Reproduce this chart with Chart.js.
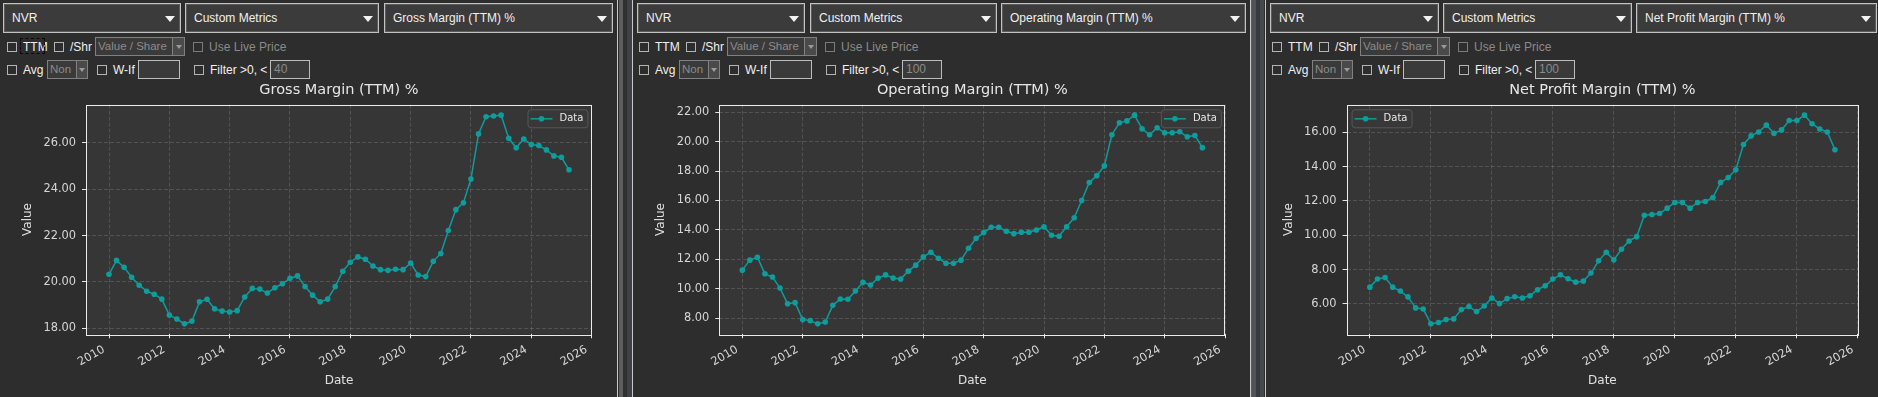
<!DOCTYPE html>
<html>
<head>
<meta charset="utf-8">
<script src="https://cdn.jsdelivr.net/npm/chart.js@4.4.1/dist/chart.umd.min.js"></script>
<style>
html,body{margin:0;padding:0;background:#2d2d2d;width:1878px;height:397px;overflow:hidden;font-family:"Liberation Sans",Arial,sans-serif;}
.panel{position:absolute;top:0;height:397px;}
.a{position:absolute;box-sizing:border-box;white-space:nowrap;}
.combo{border:1px solid #c2c2c2;box-shadow:inset 0 0 0 1px #5c5c5c;background:#3b3b3b;color:#f0f0f0;font-size:12px;line-height:28px;padding-left:8px;overflow:hidden;}
.arrow{position:absolute;width:0;height:0;border-left:5px solid transparent;border-right:5px solid transparent;border-top:6px solid #f2f2f2;}
.dcombo{border:1px solid #808080;background:#3a3a3a;color:#8c8c8c;font-size:11.5px;line-height:17px;padding-left:2px;overflow:hidden;}
.dbtn{border:1px solid #808080;background:#4a4a4a;}
.darrow{position:absolute;width:0;height:0;border-left:3px solid transparent;border-right:3px solid transparent;border-top:4px solid #9a9a9a;}
.cb{width:10px;height:10px;border:1px solid #b4b4b4;background:#2d2d2d;}
.cb.dis{border-color:#7a7a7a;}
.lbl{font-size:12px;color:#f0f0f0;line-height:16px;}
.lbl.dis{color:#8a8a8a;}
.inp{border:1px solid #bcbcbc;background:#3a3a3a;color:#8a8a8a;font-size:12px;line-height:17px;padding-left:3px;}
.focus{border:1px dashed #0a0a0a;}
.strip{position:absolute;top:0;height:397px;width:1px;}
canvas{position:absolute;left:0;top:0;}
</style>
</head>
<body>
<script>
// ---------------- data ----------------
const dates = [
 '2010-01','2010-04','2010-07','2010-10','2011-01','2011-04','2011-07','2011-10',
 '2012-01','2012-04','2012-07','2012-10','2013-01','2013-04','2013-07','2013-10',
 '2014-01','2014-04','2014-07','2014-10','2015-01','2015-04','2015-07','2015-10',
 '2016-01','2016-04','2016-07','2016-10','2017-01','2017-04','2017-07','2017-10',
 '2018-01','2018-04','2018-07','2018-10','2019-01','2019-04','2019-07','2019-10',
 '2020-01','2020-04','2020-07','2020-10','2021-01','2021-04','2021-07','2021-10',
 '2022-01','2022-04','2022-07','2022-10','2023-01','2023-04','2023-07','2023-10',
 '2024-01','2024-04','2024-07','2024-10','2025-01','2025-04'
];
const grossMargin = [20.33,20.93,20.63,20.20,19.86,19.60,19.47,19.26,18.57,18.40,
 18.19,18.31,19.14,19.25,18.84,18.74,18.70,18.76,19.35,19.72,
 19.69,19.52,19.75,19.92,20.16,20.26,19.80,19.43,19.14,19.26,
 19.80,20.46,20.85,21.08,20.98,20.69,20.53,20.50,20.55,20.53,
 20.81,20.30,20.23,20.89,21.23,22.22,23.12,23.42,24.44,26.39,
 27.13,27.16,27.20,26.20,25.79,26.17,25.93,25.89,25.70,25.44,
 25.38,24.84];
const operatingMargin = [11.27,11.95,12.15,11.02,10.80,10.05,8.99,9.06,7.91,7.84,
 7.62,7.75,8.88,9.31,9.29,9.85,10.44,10.26,10.73,10.95,
 10.73,10.66,11.20,11.61,12.17,12.49,12.08,11.74,11.74,11.95,
 12.76,13.43,13.82,14.18,14.18,13.91,13.75,13.84,13.84,14.00,
 14.22,13.64,13.57,14.22,14.83,16.00,17.22,17.69,18.35,20.47,
 21.28,21.41,21.80,20.87,20.47,20.94,20.60,20.60,20.67,20.33,
 20.42,19.59];
const netProfitMargin = [6.98,7.45,7.54,6.98,6.75,6.41,5.77,5.71,4.84,4.92,
 5.09,5.13,5.67,5.85,5.56,5.88,6.35,6.02,6.31,6.42,
 6.35,6.48,6.83,7.06,7.45,7.70,7.47,7.27,7.33,7.80,
 8.51,9.01,8.57,9.19,9.67,9.92,11.17,11.21,11.27,11.58,
 11.91,11.91,11.58,11.91,11.97,12.20,13.08,13.36,13.82,15.29,
 15.79,16.02,16.42,15.94,16.14,16.69,16.69,17.00,16.50,16.19,
 16.02,14.98];
const xTickValues = [2010,2012,2014,2016,2018,2020,2022,2024,2026];
const xTickLabels = ['2010','2012','2014','2016','2018','2020','2022','2024','2026'];
const grossTicks = [18,20,22,24,26];
const operatingTicks = [8,10,12,14,16,18,20,22];
const netTicks = [6,8,10,12,14,16];
const titles = ['Gross Margin (TTM) %','Operating Margin (TTM) %','Net Profit Margin (TTM) %'];
const seriesLabel = 'Data';
const xAxisLabel = 'Date';
const yAxisLabel = 'Value';

// ---------------- helpers ----------------
const TEAL = '#0e9c9c';
const FONT = 'DejaVu Sans';
function toYear(s){ const [y,m] = s.split('-').map(Number); return y + (m-1)/12; }

function add(parent, cls, css, text){
  const d = document.createElement('div');
  d.className = 'a ' + cls;
  Object.assign(d.style, css);
  if (text !== undefined) d.textContent = text;
  parent.appendChild(d);
  return d;
}
function combo(p, x, w, text){
  const c = add(p, 'combo', {left:x+'px', top:'3px', width:w+'px', height:'30px'}, text);
  add(c, 'arrow', {left:(w-17)+'px', top:'12px'});
}
function dcombo(p, x, y, w, bw, text){
  add(p, 'dcombo', {left:x+'px', top:y+'px', width:w+'px', height:'19px'}, text);
  const b = add(p, 'dbtn', {left:(x+w-1)+'px', top:y+'px', width:bw+'px', height:'19px'});
  add(b, 'darrow', {left:((bw-2)/2-3)+'px', top:'7px'});
}
function check(p, x, y, text, dis){
  add(p, 'cb' + (dis ? ' dis' : ''), {left:x+'px', top:y+'px'});
  add(p, 'lbl' + (dis ? ' dis' : ''), {left:(x+16)+'px', top:(y-3)+'px'}, text);
}
function input(p, x, y, w, text){
  add(p, 'inp', {left:x+'px', top:y+'px', width:w+'px', height:'19px'}, text);
}

const bgPlugin = {
  id:'plotBg',
  beforeDraw(chart){
    const {ctx, chartArea:a} = chart;
    ctx.save(); ctx.fillStyle = '#363636';
    ctx.fillRect(a.left, a.top, a.right-a.left, a.bottom-a.top);
    ctx.restore();
  }
};
const framePlugin = {
  id:'frame',
  afterDraw(chart, args, opts){
    const {ctx, chartArea:a} = chart;
    // legend inside plot
    const ds = chart.data.datasets[0];
    const w = 60, h = 18;
    const bx = opts.side === 'left' ? a.left + 5 : a.right - 4.5 - w;
    const by = a.top + 4.6;
    ctx.save();
    ctx.beginPath();
    if (ctx.roundRect) ctx.roundRect(bx+0.5, by+0.5, w, h, 3); else ctx.rect(bx+0.5, by+0.5, w, h);
    ctx.fillStyle = 'rgba(56,56,56,0.85)'; ctx.fill();
    ctx.strokeStyle = '#575757'; ctx.lineWidth = 1; ctx.stroke();
    const my = by + h/2 + 0.5;
    ctx.strokeStyle = ds.borderColor; ctx.lineWidth = 1.5;
    ctx.beginPath(); ctx.moveTo(bx+3, my); ctx.lineTo(bx+25, my); ctx.stroke();
    ctx.fillStyle = ds.borderColor;
    ctx.beginPath(); ctx.arc(bx+14, my, 2.8, 0, Math.PI*2); ctx.fill();
    ctx.fillStyle = '#e8e8e8'; ctx.font = '10px "' + FONT + '"';
    ctx.textBaseline = 'middle'; ctx.textAlign = 'left';
    ctx.fillText(ds.label, bx+32, my);
    // spines
    ctx.strokeStyle = '#ececec'; ctx.lineWidth = 1;
    ctx.strokeRect(Math.round(a.left)+0.5, Math.round(a.top)+0.5, Math.round(a.right-a.left)-1, Math.round(a.bottom-a.top));
    ctx.restore();
  }
};

function makeChart(panel, cfg){
  const cv = document.createElement('canvas');
  cv.width = cfg.width; cv.height = 317;
  const holder = add(panel, '', {left:'0px', top:'80px', width:cfg.width+'px', height:'317px'});
  holder.appendChild(cv);
  const xs = dates.map(toYear);
  const vals = cfg.values;
  const lo = Math.min(...vals), hi = Math.max(...vals), m = (hi-lo)*0.05;
  const x0 = Math.min(...xs), x1 = Math.max(...xs), mx = (x1-x0)*0.05;
  const tickFont = {family:FONT, size:11.4};
  const gridCol = 'rgba(255,255,255,0.14)';
  new Chart(cv, {
    type:'line',
    data:{datasets:[{
      label:seriesLabel,
      data:xs.map((x,i)=>({x:x, y:vals[i]})),
      borderColor:TEAL, backgroundColor:TEAL,
      pointBackgroundColor:TEAL, pointBorderColor:TEAL,
      pointRadius:2.8, pointBorderWidth:0, pointHoverRadius:2.8,
      borderWidth:1.5, tension:0, fill:false
    }]},
    options:{
      responsive:false, animation:false, events:[],
      layout:{padding:{left:0, right:cfg.width-cfg.plotRight, top:0, bottom:0}},
      plugins:{
        legend:{display:false}, tooltip:{enabled:false},
        title:{display:true, text:cfg.title, fullSize:false, color:'#e6e6e6',
          font:{family:FONT, size:14.5, weight:'normal'}, padding:{top:2, bottom:5.3}},
        frame:{side:cfg.legendSide}
      },
      scales:{
        x:{
          type:'linear', min:x0-mx, max:x1+mx,
          afterBuildTicks:s=>{ s.ticks = xTickValues.map(v=>({value:v})); },
          afterFit:s=>{ s.height = 62.7; },
          ticks:{color:'#d6d6d6', font:tickFont, minRotation:30, maxRotation:30, autoSkip:false, padding:4.5,
                 labelOffset:-5, callback:(v,i)=>xTickLabels[i]},
          grid:{color:gridCol, lineWidth:1, tickColor:'#e6e6e6', tickLength:4, tickWidth:1},
          border:{display:false, dash:[4,2]},
          title:{display:true, text:xAxisLabel, color:'#e0e0e0', font:{family:FONT, size:12}, padding:{top:0, bottom:9.1}}
        },
        y:{
          type:'linear', min:lo-m, max:hi+m,
          afterBuildTicks:s=>{ s.ticks = cfg.yTicks.map(v=>({value:v})); },
          afterFit:s=>{ s.width = cfg.plotLeft; },
          ticks:{color:'#d6d6d6', font:tickFont, padding:6, callback:v=>Number(v).toFixed(2)},
          grid:{color:gridCol, lineWidth:1, tickColor:'#e6e6e6', tickLength:4, tickWidth:1},
          border:{display:false, dash:[4,2]},
          title:{display:true, text:yAxisLabel, color:'#e0e0e0', font:{family:FONT, size:12},
                 padding:{top:cfg.plotLeft-58-7.2, bottom:0}}
        }
      }
    },
    plugins:[bgPlugin, framePlugin]
  });
}

// ---------------- panels ----------------
const panels = [
  {left:0, width:617, plotLeft:86, plotRight:592, values:grossMargin, yTicks:grossTicks, title:titles[0], legendSide:'right',
   combos:[[3,178,'NVR'],[185,194,'Custom Metrics'],[384,229,titles[0]]], filter:'40', focus:true},
  {left:632, width:618, plotLeft:87.3, plotRight:593.4, values:operatingMargin, yTicks:operatingTicks, title:titles[1], legendSide:'right',
   combos:[[5,168,'NVR'],[178,187,'Custom Metrics'],[369,245,titles[1]]], filter:'100', focus:false},
  {left:1265, width:613, plotLeft:81.6, plotRight:593.2, values:netProfitMargin, yTicks:netTicks, title:titles[2], legendSide:'left',
   combos:[[5,169,'NVR'],[178,189,'Custom Metrics'],[371,241,titles[2]]], filter:'100', focus:false}
];

panels.forEach(cfg=>{
  const p = document.createElement('div');
  p.className = 'panel';
  p.style.left = cfg.left + 'px';
  p.style.width = cfg.width + 'px';
  document.body.appendChild(p);
  cfg.combos.forEach(c=>combo(p, c[0], c[1], c[2]));
  check(p, 7, 42, 'TTM');
  if (cfg.focus) add(p, 'focus', {left:'20px', top:'38px', width:'25px', height:'16px'});
  check(p, 54, 42, '/Shr');
  dcombo(p, 95, 37, 78, 13, 'Value / Share');
  check(p, 193, 42, 'Use Live Price', true);
  check(p, 7, 65, 'Avg');
  dcombo(p, 47, 60, 30, 12, 'Non');
  check(p, 97, 65, 'W-If');
  input(p, 138, 60, 42, '');
  check(p, 194, 65, 'Filter >0, <');
  input(p, 270, 60, 40, cfg.filter);
  makeChart(p, cfg);
});

// splitters
[[617,'#c8c8c8'],[618,'#2a2a2a'],[619,'#5d5d5d'],[620,'#5d5d5d'],[621,'#5d5d5d'],[622,'#5d5d5d'],
 [623,'#303030'],[624,'#303030'],[625,'#303030'],[626,'#303030'],[627,'#3e4246'],[628,'#3e4246'],
 [629,'#3e4246'],[630,'#3e4246'],[631,'#3e4246'],[632,'#c8c8c8'],
 [1250,'#c8c8c8'],[1251,'#5a5a5a'],[1252,'#4f5357'],[1253,'#4f5357'],[1254,'#4f5357'],[1255,'#4f5357'],
 [1256,'#383b3e'],[1257,'#383b3e'],[1258,'#383b3e'],[1259,'#383b3e'],[1260,'#45494c'],[1261,'#45494c'],
 [1262,'#45494c'],[1263,'#45494c'],[1264,'#2d2d2d'],[1265,'#c8c8c8']].forEach(([x,c])=>{
  const s = document.createElement('div');
  s.className = 'strip'; s.style.left = x+'px'; s.style.background = c;
  document.body.appendChild(s);
});
</script>
</body>
</html>
